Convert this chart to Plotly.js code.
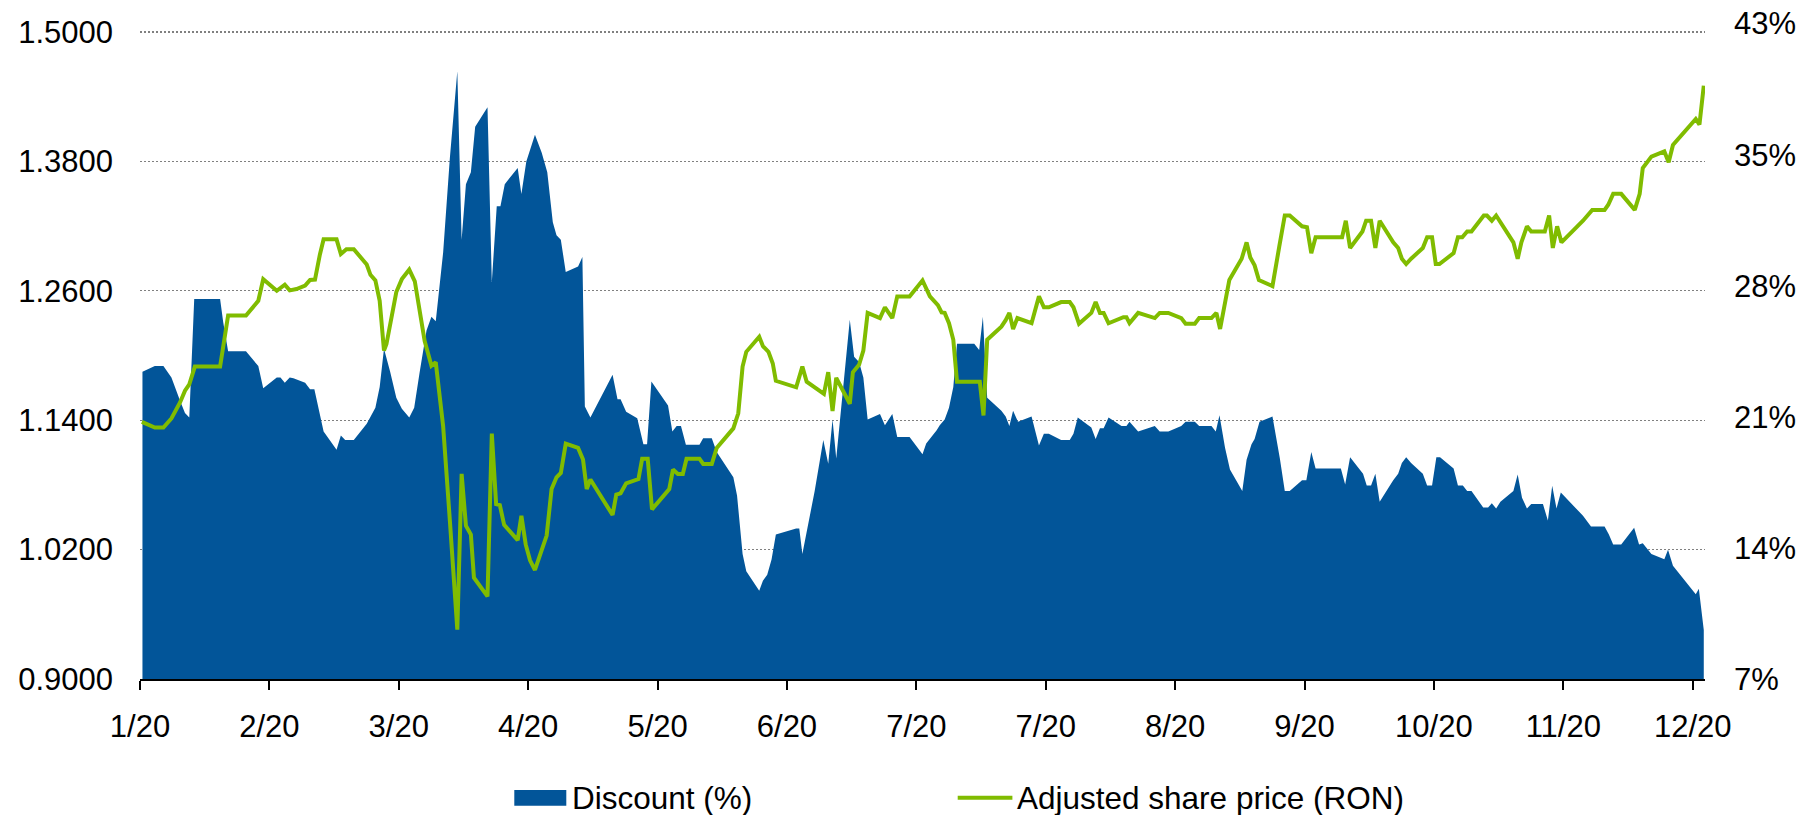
<!DOCTYPE html>
<html>
<head>
<meta charset="utf-8">
<script src="https://cdn.plot.ly/plotly-3.0.1.min.js"></script>
<style>
html,body{margin:0;padding:0;background:#ffffff;}
#chart{width:1803px;height:815px;}
</style>
</head>
<body>
<div id="chart"></div>
<script>
// ---- DATA (trading-day index from start of January 2020) ----
const seriesNames = ['Discount (%)', 'Adjusted share price (RON)'];

const monthTickDays = [0,21,42,63,84,105,126,147,168,189,210,231,252];
const monthTickLabels = ['1/20','2/20','3/20','4/20','5/20','6/20','7/20','7/20','8/20','9/20','10/20','11/20','12/20'];

const priceTicks = [0.9,1.02,1.14,1.26,1.38,1.5];
const discountTicks = [7,14.2,21.4,28.6,35.8,43];
const discountTickLabels = ['7%','14%','21%','28%','35%','43%'];

const priceDays = [0.3,2.4,3.8,5.1,6.5,7.3,8.0,8.9,13.0,14.3,17.2,19.2,20.0,22.2,23.5,24.3,25.4,26.8,27.6,28.4,
29.2,29.8,31.9,32.6,33.5,34.7,36.8,37.4,38.2,38.9,39.6,40.0,41.6,42.5,43.7,44.6,46.2,47.3,48.0,49.2,
50.3,51.5,52.2,52.9,53.7,54.2,56.4,57.1,57.8,58.4,59.1,61.3,61.9,62.6,63.3,64.1,66.0,66.8,67.6,68.3,
69.1,71.1,71.9,72.5,73.1,76.7,77.3,78.0,78.9,80.9,81.5,82.4,83.1,85.9,86.5,87.3,88.1,88.7,90.8,91.4,
92.8,93.6,96.3,97.1,97.8,98.4,100.5,101.1,102.0,102.7,103.2,106.5,107.5,108.2,111.0,111.7,112.4,113.0,115.2,115.7,
116.7,117.4,118.1,120.1,120.9,122.1,122.9,124.9,127.0,128.2,129.5,130.1,130.6,131.3,132.0,132.6,136.3,136.9,137.5,139.8,
140.5,141.1,141.7,142.4,144.7,145.9,146.7,147.5,149.5,150.9,151.5,152.4,154.4,155.1,155.8,156.4,157.2,159.6,160.1,160.6,
162.0,164.7,165.5,166.9,169.0,169.7,171.2,171.9,173.9,174.7,175.3,176.8,178.8,179.6,180.2,180.9,181.6,183.8,184.9,185.8,
186.6,188.6,189.4,190.1,190.8,195.1,195.7,196.4,198.4,199.0,199.8,200.5,201.2,203.4,204.2,204.8,205.5,206.3,208.2,208.9,
209.7,210.3,210.9,213.2,213.9,214.6,215.4,216.1,218.1,218.6,219.4,220.1,222.9,223.6,224.2,225.1,225.8,228.0,228.7,229.3,
230.0,230.7,234.2,235.7,237.7,238.3,239.1,240.4,242.6,243.4,243.9,245.3,247.4,248.1,248.8,252.5,253.1,253.8];

const price = [1.1384,1.1332,1.1332,1.1416,1.1564,1.1673,1.1733,1.1897,1.1897,1.2371,1.2371,1.2507,1.2708,1.2600,1.2656,1.2604,1.2616,1.2648,1.2700,1.2704,
1.2937,1.3077,1.3077,1.2941,1.2985,1.2985,1.2844,1.2748,1.2696,1.2507,1.2046,1.2106,1.2588,1.2708,1.2796,1.2688,1.2134,1.1905,1.1937,1.1344,
1.0461,0.9457,1.0902,1.0421,1.0340,0.9939,0.9766,1.1275,1.0621,1.0613,1.0429,1.0288,1.0513,1.0248,1.0100,1.0011,1.0330,1.0762,1.0870,1.0910,
1.1183,1.1143,1.1035,1.0762,1.0850,1.0521,1.0710,1.0722,1.0814,1.0854,1.1043,1.1043,1.0573,1.0762,1.0942,1.0902,1.0902,1.1043,1.1043,1.0994,
1.0994,1.1143,1.1324,1.1464,1.1897,1.2034,1.2174,1.2086,1.2034,1.1926,1.1765,1.1705,1.1897,1.1757,1.1645,1.1845,1.1484,1.1793,1.1552,1.1845,
1.1913,1.2046,1.2395,1.2347,1.2447,1.2347,1.2548,1.2548,1.2696,1.2548,1.2467,1.2399,1.2395,1.2299,1.2146,1.1757,1.1757,1.1444,1.2146,1.2267,
1.2327,1.2395,1.2246,1.2347,1.2299,1.2548,1.2447,1.2447,1.2495,1.2495,1.2447,1.2295,1.2395,1.2495,1.2395,1.2395,1.2299,1.2355,1.2355,1.2299,
1.2395,1.2347,1.2395,1.2395,1.2347,1.2295,1.2295,1.2347,1.2347,1.2395,1.2246,1.2700,1.2897,1.3049,1.2909,1.2836,1.2700,1.2644,1.3009,1.3298,
1.3298,1.3198,1.3190,1.2949,1.3097,1.3097,1.3250,1.2997,1.3150,1.3250,1.3250,1.2997,1.3250,1.3049,1.2997,1.2897,1.2848,1.2897,1.2997,1.3097,
1.3097,1.2848,1.2848,1.2949,1.3097,1.3097,1.3150,1.3150,1.3298,1.3298,1.3250,1.3298,1.3049,1.2897,1.3049,1.3198,1.3150,1.3150,1.3298,1.2997,
1.3198,1.3049,1.3250,1.3350,1.3350,1.3398,1.3499,1.3499,1.3350,1.3499,1.3739,1.3844,1.3892,1.3791,1.3952,1.4193,1.4141,1.4502];

const discountDays = [0.4,2.4,3.8,5.1,6.5,7.3,8.0,8.8,13.0,13.5,14.3,17.2,19.2,20.0,22.2,22.8,23.5,24.3,24.9,26.8,
27.6,28.3,29.8,31.9,32.6,33.3,34.7,36.8,38.2,38.9,39.6,40.6,41.6,42.5,43.7,44.5,45.4,46.5,47.3,48.0,
49.2,50.3,51.5,52.2,52.9,53.7,54.4,56.4,57.1,57.9,58.5,59.2,61.3,61.9,62.7,64.1,65.2,66.1,67.0,67.6,
68.3,69.1,71.1,71.8,72.2,73.1,76.7,77.5,78.0,78.9,80.7,81.7,82.3,83.0,85.7,86.4,87.1,87.8,88.6,90.8,
91.4,92.8,93.6,96.3,96.9,97.8,98.4,100.5,101.1,101.8,102.5,103.2,106.5,107.0,107.5,109.5,110.9,111.7,112.4,113.0,
115.2,115.9,116.7,117.4,118.1,120.1,120.9,122.1,122.9,124.9,127.0,127.6,129.3,129.8,130.6,131.3,132.0,132.6,135.4,136.2,
136.8,137.5,139.8,140.5,141.1,141.7,142.5,144.7,145.9,146.7,147.5,149.5,150.9,151.5,152.2,154.4,155.1,155.8,156.4,157.2,
159.3,160.1,160.6,162.0,164.7,165.5,166.9,169.0,169.7,171.2,171.9,173.9,174.6,175.2,176.1,176.9,178.9,179.6,180.4,180.9,
181.7,183.8,185.0,185.8,186.6,188.6,189.3,190.1,190.8,194.9,195.6,196.4,198.5,199.1,199.8,200.5,201.2,203.4,204.2,204.8,
205.5,206.3,208.2,208.9,209.7,210.4,211.0,213.2,213.9,214.7,215.4,216.1,218.0,218.8,219.4,220.1,220.8,222.9,223.6,224.3,
225.1,225.8,227.7,228.5,229.2,229.9,230.6,234.2,235.5,237.7,238.4,239.1,240.4,242.5,243.3,243.9,245.3,247.4,248.0,248.8,
252.5,253.0,253.8];

const discount = [23.87,24.18,24.18,23.56,22.27,21.60,21.36,27.87,27.87,26.61,24.99,24.99,24.18,22.96,23.56,23.56,23.27,23.56,23.51,23.27,
22.91,22.91,20.58,19.58,20.36,20.12,20.12,21.01,21.89,23.03,25.13,23.87,22.44,21.84,21.36,21.89,23.87,26.13,26.89,26.65,
30.42,35.66,40.38,31.13,34.18,34.83,37.33,38.40,28.80,32.97,32.97,34.18,35.07,33.64,35.42,36.90,35.90,34.83,32.09,31.37,
31.13,29.35,29.66,30.18,21.96,21.36,23.70,22.36,22.36,21.67,21.32,19.89,19.89,23.34,22.01,20.58,20.89,20.89,19.86,19.86,
20.22,20.22,19.46,18.07,17.07,13.86,12.90,11.83,12.38,12.71,13.55,14.93,15.26,15.26,13.86,17.31,20.12,18.81,21.24,19.10,
26.73,24.70,24.41,23.56,21.24,21.55,20.93,21.55,20.29,20.29,19.34,19.93,20.65,20.93,21.24,21.89,23.03,25.41,25.41,25.06,
26.89,22.44,21.72,21.41,20.89,21.72,21.12,21.41,19.81,20.46,20.46,20.12,20.12,20.46,21.36,20.81,20.17,20.77,20.77,21.36,
20.89,20.89,21.12,20.58,20.89,20.58,20.58,20.89,21.12,21.12,20.89,20.89,20.58,21.48,19.69,18.50,17.31,19.03,19.89,20.17,
21.12,21.41,19.10,17.31,17.31,17.91,17.91,19.46,18.55,18.55,17.67,19.17,18.26,17.62,17.62,18.26,16.72,17.91,18.26,18.86,
19.17,18.86,18.26,17.62,17.62,19.17,19.17,18.55,17.62,17.62,17.31,17.31,16.41,16.41,16.64,16.36,16.72,17.31,18.22,16.95,
16.36,16.60,16.60,15.69,17.60,16.36,17.24,15.95,15.36,15.36,14.93,14.38,14.38,15.29,14.38,14.45,13.86,13.57,14.09,13.21,
11.64,11.95,9.68];

// ---- STYLE ----
const FONT = '"Liberation Sans", Arial, Helvetica, sans-serif';
const BLUE = '#025599';
const GREEN = '#80bc00';

const traces = [
  {
    type: 'scatter', name: seriesNames[0],
    x: discountDays, y: discount, yaxis: 'y',
    mode: 'none', fill: 'tozeroy', fillcolor: BLUE,
    hoverinfo: 'skip'
  },
  {
    type: 'scatter', name: seriesNames[1],
    x: priceDays, y: price, yaxis: 'y2',
    mode: 'lines', line: {color: GREEN, width: 4},
    hoverinfo: 'skip'
  }
];

// plot area: x 140..1705, y 20..679 (px)
function px(x){ return (x - 140) / 1565; }
function py(y){ return (679 - y) / 659; }

const layout = {
  width: 1803, height: 815,
  margin: {l: 140, r: 98, t: 20, b: 136, pad: 0},
  paper_bgcolor: '#ffffff', plot_bgcolor: '#ffffff',
  showlegend: false,
  font: {family: FONT, size: 31, color: '#000000'},
  xaxis: {
    range: [0, 254], tickmode: 'array', tickvals: monthTickDays, ticktext: monthTickLabels,
    ticks: 'outside', ticklen: 9, tickwidth: 2, tickcolor: '#000000',
    showline: true, linecolor: '#000000', linewidth: 2,
    showgrid: false, zeroline: false, ticklabelstandoff: 10,
    tickfont: {family: FONT, size: 31, color: '#000000'}
  },
  yaxis: {
    side: 'right', range: [6.984, 43.2],
    tickmode: 'array', tickvals: discountTicks, ticktext: discountTickLabels,
    showgrid: false, zeroline: false, showline: false, ticks: '',
    ticklabelstandoff: 28,
    tickfont: {family: FONT, size: 31, color: '#000000'}
  },
  yaxis2: {
    side: 'left', overlaying: 'y', range: [0.9, 1.5111],
    tickmode: 'array', tickvals: priceTicks, tickformat: '.4f',
    showgrid: true, gridcolor: '#808080', gridwidth: 1.3, griddash: '2px,2px',
    zeroline: false, showline: false, ticks: '',
    ticklabelstandoff: 26,
    tickfont: {family: FONT, size: 31, color: '#000000'}
  },
  shapes: [
    {type: 'rect', xref: 'paper', yref: 'paper', x0: px(514.3), x1: px(566.3), y0: py(805.7), y1: py(790),
     fillcolor: BLUE, line: {width: 0}},
    {type: 'line', xref: 'paper', yref: 'paper', x0: px(957.7), x1: px(1012.4), y0: py(797.7), y1: py(797.7),
     line: {color: GREEN, width: 4}}
  ],
  annotations: [
    {xref: 'paper', yref: 'paper', x: px(570), y: py(798), xanchor: 'left', yanchor: 'middle',
     text: seriesNames[0], showarrow: false, font: {family: FONT, size: 31.5, color: '#000000'}},
    {xref: 'paper', yref: 'paper', x: px(1015), y: py(798), xanchor: 'left', yanchor: 'middle',
     text: seriesNames[1], showarrow: false, font: {family: FONT, size: 31.5, color: '#000000'}}
  ]
};

Plotly.newPlot('chart', traces, layout, {staticPlot: true, displayModeBar: false});
</script>
</body>
</html>
